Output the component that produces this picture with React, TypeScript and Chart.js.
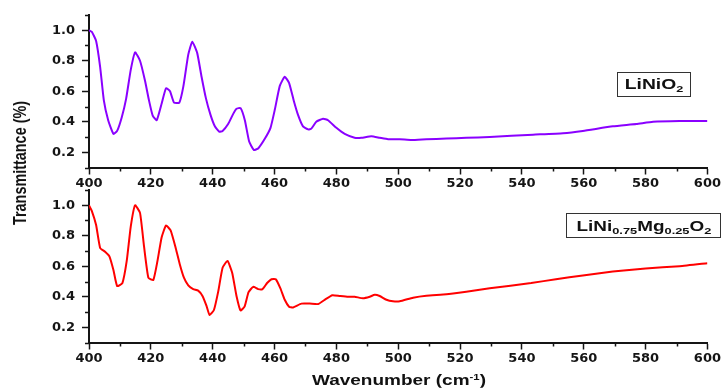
import React, { useEffect, useRef } from "react";
import { Chart, registerables } from "chart.js";

Chart.register(...registerables);

// ---------- data ----------
const xMajorTicks = [400, 420, 440, 460, 480, 500, 520, 540, 560, 580, 600];
const xMinorTicks = [410, 430, 450, 470, 490, 510, 530, 550, 570, 590];
const yMajorTicks = [0.2, 0.4, 0.6, 0.8, 1.0];
const yMinorTicks = [0.1, 0.3, 0.5, 0.7, 0.9, 1.1];

const liNiO2Wavenumber = [
  400, 400.9, 402.3, 403.6, 404.8, 406.2, 407.9, 409.1, 410.6, 412, 413.5, 414.9, 416.5, 418.1,
  419.4, 420.6, 421.9, 423.5, 424.9, 426.2, 427.5, 429.2, 430.5, 432.1, 433.4, 435, 436.4, 437.8,
  439.3, 440.7, 442.1, 443.2, 445, 446.6, 447.7, 449, 450.4, 451.8, 453.3, 454.7, 456.9, 458.7,
  460.1, 461.7, 463.3, 464.7, 466.2, 467.6, 469.2, 470.9, 471.9, 473.5, 475.7, 477.3, 480, 482.7,
  485.9, 488.1, 491.3, 494, 496.7, 500.5, 504.3, 509.1, 515.6, 522, 529.6, 543.6, 553.3, 559.7,
  569.4, 577, 582.4, 591, 600,
];
const liNiO2Transmittance = [
  1.0, 0.99, 0.93, 0.76, 0.54, 0.41, 0.32, 0.34, 0.43, 0.55, 0.74, 0.855, 0.8, 0.67,
  0.54, 0.44, 0.41, 0.52, 0.62, 0.6, 0.525, 0.525, 0.63, 0.84, 0.925, 0.85, 0.695, 0.555,
  0.445, 0.37, 0.335, 0.34, 0.385, 0.45, 0.485, 0.49, 0.41, 0.27, 0.215, 0.225, 0.29, 0.36,
  0.48, 0.635, 0.695, 0.655, 0.54, 0.445, 0.37, 0.35, 0.355, 0.4, 0.42, 0.41, 0.36, 0.32,
  0.295, 0.295, 0.305, 0.295, 0.285, 0.285, 0.28, 0.285, 0.29, 0.295, 0.3, 0.315, 0.325, 0.34,
  0.37, 0.385, 0.4, 0.405, 0.405,
];

const mgWavenumber = [
  400, 400.9, 402.3, 403.6, 405.2, 406.6, 407.9, 409.1, 410.8, 412.2, 413.5, 414.9, 416.5, 417.8,
  419.2, 420.8, 422.1, 423.5, 424.9, 426.4, 428.1, 429.4, 430.7, 432.1, 433.7, 435.3, 436.7, 438,
  439, 440.4, 441.8, 443.2, 444.8, 446.3, 447.7, 449, 450.3, 451.6, 453.1, 454.7, 456.1, 457.6,
  459, 460.4, 461.9, 463.3, 464.7, 466, 468.7, 471.4, 474.1, 476.2, 478.7, 481.1, 483.8, 485.9,
  488.6, 490.8, 492.4, 494, 496.2, 498.3, 500.5, 504.8, 509.1, 515.6, 522, 529.6, 543, 551,
  559.7, 569.4, 580, 591, 600,
];
const mgTransmittance = [
  1.0, 0.963, 0.87, 0.72, 0.695, 0.665, 0.575, 0.47, 0.49, 0.635, 0.86, 1.0, 0.95, 0.73,
  0.525, 0.51, 0.63, 0.79, 0.867, 0.835, 0.715, 0.61, 0.525, 0.475, 0.45, 0.44, 0.405, 0.34,
  0.28, 0.313, 0.435, 0.59, 0.635, 0.557, 0.405, 0.31, 0.335, 0.43, 0.465, 0.45, 0.45, 0.49,
  0.515, 0.515, 0.455, 0.38, 0.335, 0.33, 0.355, 0.355, 0.352, 0.38, 0.41, 0.405, 0.4, 0.4,
  0.39, 0.4, 0.413, 0.405, 0.38, 0.37, 0.37, 0.394, 0.407, 0.416, 0.433, 0.455, 0.49, 0.515,
  0.54, 0.565, 0.586, 0.6, 0.62,
];

const AXIS_COLOR = "#151515";

const minorTicksPlugin = {
  id: "minorTicks",
  afterDraw(chart: any) {
    const { ctx, chartArea } = chart;
    const x = chart.scales.x;
    const y = chart.scales.y;
    ctx.save();
    ctx.strokeStyle = AXIS_COLOR;
    ctx.lineWidth = 1.5;
    ctx.beginPath();
    for (const v of xMinorTicks) {
      const px = Math.round(x.getPixelForValue(v)) + 0.5;
      ctx.moveTo(px, chartArea.bottom);
      ctx.lineTo(px, chartArea.bottom + 4);
    }
    for (const v of yMinorTicks) {
      const py = Math.round(y.getPixelForValue(v)) + 0.5;
      ctx.moveTo(chartArea.left - 4, py);
      ctx.lineTo(chartArea.left, py);
    }
    ctx.stroke();
    ctx.restore();
  },
};

function makeConfig(xs: number[], ys: number[], color: string): any {
  const points = xs.map((v, i) => ({ x: v, y: ys[i] }));
  const tickFont = { family: "'DejaVu Sans', sans-serif", weight: "bold", size: 13 };
  return {
    type: "line",
    data: {
      datasets: [
        {
          data: points,
          borderColor: color,
          borderWidth: 2,
          pointRadius: 0,
          tension: 0.15,
          fill: false,
        },
      ],
    },
    options: {
      animation: false,
      responsive: false,
      devicePixelRatio: 1,
      layout: { padding: { top: 15, right: 14, bottom: 0, left: 0 } },
      plugins: { legend: { display: false }, tooltip: { enabled: false }, title: { display: false } },
      scales: {
        x: {
          type: "linear",
          min: 400,
          max: 600,
          afterBuildTicks: (scale: any) => {
            scale.ticks = xMajorTicks.map((v) => ({ value: v }));
          },
          afterFit: (scale: any) => {
            scale.height = 32.5;
          },
          ticks: {
            font: tickFont,
            color: AXIS_COLOR,
            padding: 1,
            maxRotation: 0,
            autoSkip: false,
            callback: (v: any) => String(v),
          },
          grid: {
            drawOnChartArea: false,
            drawTicks: true,
            tickLength: 7,
            tickColor: AXIS_COLOR,
            tickWidth: 1.5,
          },
          border: { display: true, color: AXIS_COLOR, width: 2 },
        },
        y: {
          type: "linear",
          min: 0.1,
          max: 1.1,
          afterBuildTicks: (scale: any) => {
            scale.ticks = yMajorTicks.map((v) => ({ value: v }));
          },
          afterFit: (scale: any) => {
            scale.width = 89;
          },
          ticks: {
            font: tickFont,
            color: AXIS_COLOR,
            padding: 7,
            autoSkip: false,
            callback: (v: any) => Number(v).toFixed(1),
          },
          grid: {
            drawOnChartArea: false,
            drawTicks: true,
            tickLength: 7,
            tickColor: AXIS_COLOR,
            tickWidth: 1.5,
          },
          border: { display: true, color: AXIS_COLOR, width: 2 },
        },
      },
    },
    plugins: [minorTicksPlugin],
  };
}

const labelFont = "'Liberation Sans', Arial, sans-serif";

export default function App() {
  const topRef = useRef<HTMLCanvasElement | null>(null);
  const bottomRef = useRef<HTMLCanvasElement | null>(null);

  useEffect(() => {
    const c1 = new Chart(topRef.current as HTMLCanvasElement, makeConfig(liNiO2Wavenumber, liNiO2Transmittance, "#8a00ff"));
    const c2 = new Chart(bottomRef.current as HTMLCanvasElement, makeConfig(mgWavenumber, mgTransmittance, "#ff0000"));
    return () => {
      c1.destroy();
      c2.destroy();
    };
  }, []);

  const subStyle: React.CSSProperties = { fontSize: 9.5, verticalAlign: "-0.35em", lineHeight: 0 };

  return (
    <div style={{ position: "absolute", left: 0, top: 0, width: 722, height: 389, background: "#fff", overflow: "hidden" }}>
      <canvas ref={topRef} width={722} height={200} style={{ position: "absolute", left: 0, top: 0, width: 722, height: 200 }} />
      <canvas ref={bottomRef} width={722} height={200} style={{ position: "absolute", left: 0, top: 175, width: 722, height: 200 }} />

      {/* Y axis title */}
      <div
        style={{
          position: "absolute",
          left: 20,
          top: 163,
          transform: "translate(-50%, -50%) rotate(-90deg) scaleX(0.8)",
          whiteSpace: "nowrap",
          fontFamily: labelFont,
          fontWeight: "bold",
          fontSize: 18,
          lineHeight: 1,
          color: "#111",
        }}
      >
        Transmittance (%)
      </div>

      {/* X axis title */}
      <div
        style={{
          position: "absolute",
          left: 399,
          top: 380,
          transform: "translate(-50%, -50%) scaleX(1.31)",
          whiteSpace: "nowrap",
          fontFamily: labelFont,
          fontWeight: "bold",
          fontSize: 14.5,
          lineHeight: 1,
          color: "#111",
        }}
      >
        Wavenumber (cm<sup style={{ fontSize: "0.6em", verticalAlign: "0.55em", lineHeight: 0 }}>-1</sup>)
      </div>

      {/* Legend box top */}
      <div
        style={{
          position: "absolute",
          left: 617,
          top: 72,
          width: 74,
          height: 25,
          boxSizing: "border-box",
          border: "1px solid #333",
          display: "flex",
          alignItems: "center",
          justifyContent: "center",
          fontFamily: labelFont,
          fontWeight: "bold",
          fontSize: 14.5,
          color: "#111",
        }}
      >
        <span style={{ display: "inline-block", transform: "scaleX(1.33)", whiteSpace: "nowrap", lineHeight: 1 }}>
          LiNiO<sub style={subStyle}>2</sub>
        </span>
      </div>

      {/* Legend box bottom */}
      <div
        style={{
          position: "absolute",
          left: 566,
          top: 213,
          width: 155,
          height: 25,
          boxSizing: "border-box",
          border: "1px solid #333",
          display: "flex",
          alignItems: "center",
          justifyContent: "center",
          fontFamily: labelFont,
          fontWeight: "bold",
          fontSize: 14,
          color: "#111",
        }}
      >
        <span style={{ display: "inline-block", transform: "scaleX(1.35)", whiteSpace: "nowrap", lineHeight: 1 }}>
          LiNi<sub style={subStyle}>0.75</sub>Mg<sub style={subStyle}>0.25</sub>O<sub style={subStyle}>2</sub>
        </span>
      </div>
    </div>
  );
}
